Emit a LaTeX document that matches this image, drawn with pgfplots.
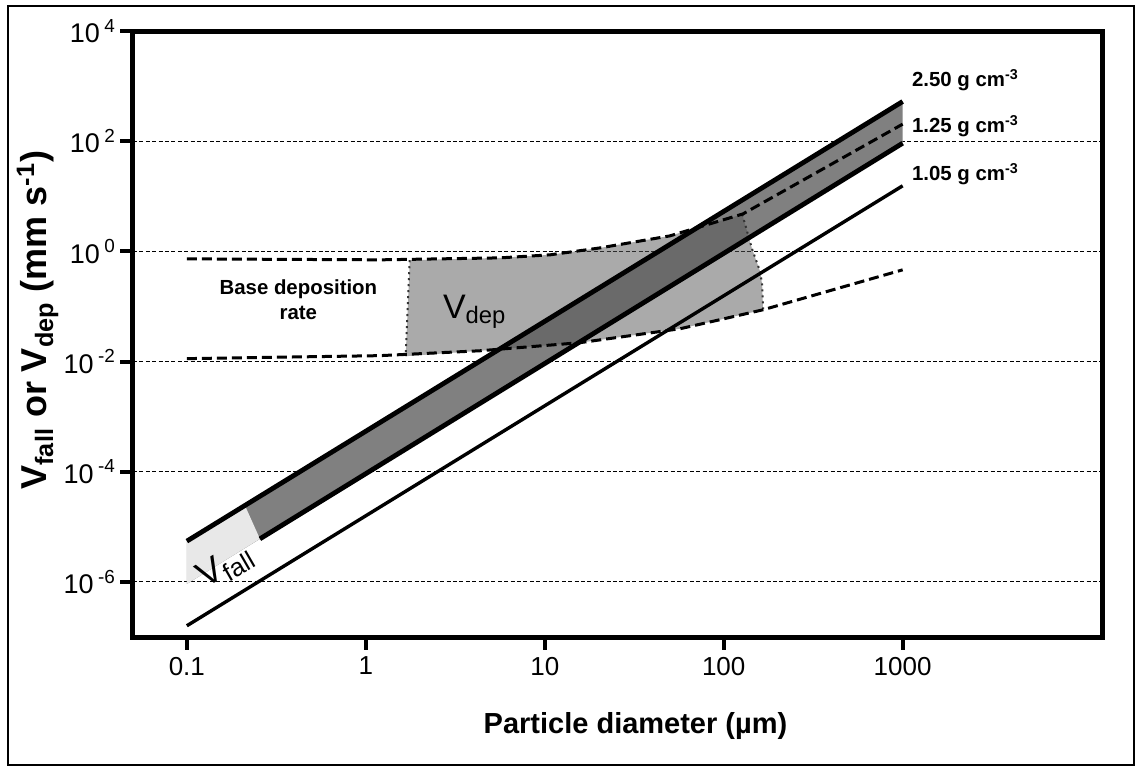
\documentclass[border=0pt]{standalone}
\usepackage{fontspec}
\setmainfont{Liberation Sans}
\usepackage{pgfplots}
\pgfplotsset{compat=1.18}
\definecolor{bandgray}{RGB}{128,128,128}
\definecolor{depgray}{RGB}{86,86,86}
\definecolor{fallgray}{RGB}{232,232,232}
\begin{document}
\begin{tikzpicture}
\begin{axis}[
 scale only axis, width=484.5pt, height=303pt,
 xmode=log, ymode=log,
 xmin=0.05, xmax=13000, ymin=1e-7, ymax=1e4,
 xtick={0.1,1,10,100,1000}, xticklabels={0.1,1,10,100,1000},
 ytick={1e-6,1e-4,1e-2,1,1e2,1e4},
 yticklabels={10\,\textsuperscript{-6},10\,\textsuperscript{-4},10\,\textsuperscript{-2},10\,\textsuperscript{0},10\,\textsuperscript{2},10\,\textsuperscript{4}},
 xminorticks=false, yminorticks=false,
 tick align=outside, xtick pos=left, ytick pos=left,
 major tick length=6.5pt,
 major tick style={line width=2pt, black},
 axis line style={line width=2.5pt},
 ymajorgrids, grid style={line width=0.5pt, dash pattern=on 2pt off 1.2pt, black},
 xticklabel style={font=\fontsize{13}{14}\selectfont},
 yticklabel style={font=\fontsize{13.5}{15}\selectfont, xshift=1.5pt},
 xlabel={Particle diameter (µm)},
 xlabel style={at={(axis description cs:0.5186,-0.1584)}, anchor=base, font=\bfseries\fontsize{14.5}{16}\selectfont},
 ylabel={V\textsubscript{fall} or V\textsubscript{dep} (mm s\textsuperscript{-1})},
 ylabel style={at={(axis description cs:-0.0985,0.523)}, anchor=center, font=\bfseries\fontsize{18}{20}\selectfont},
]
% dark band (1.25 - 2.50 g cm-3)
\addplot[draw=none, fill=bandgray] coordinates {(0.1,5.5e-6) (1000,525) (1000,92) (0.1,9.2e-7)} -- cycle;
% V_fall light patch
\addplot[draw=none, fill=fallgray] coordinates {(0.1,5.5e-6) (0.211,2.45e-5) (0.256,6.05e-6) (0.1,9.2e-7)} -- cycle;
% V_dep region
\addplot[draw=none, fill=depgray, fill opacity=0.5] coordinates {
 (1.76,0.69) (5.6,0.762) (10.7,0.865) (20.4,1.157) (50,1.91) (127,4.7)
 (144,1.11) (160,0.425) (164,0.247) (166,0.087)
 (95,0.0574) (57,0.0394) (15.7,0.0220) (4.35,0.0157) (1.67,0.0125)} -- cycle;
% dotted edges of V_dep
\addplot[line width=1pt, dotted, color=black!80] coordinates {(1.76,0.69) (1.67,0.0125)};
\addplot[line width=1pt, dotted, color=black!80] coordinates {(127,4.7) (144,1.11) (160,0.425) (164,0.247) (166,0.087)};
% dashed deposition bounds
\addplot[line width=1.5pt, dash pattern=on 5pt off 2.5pt, black] coordinates {
 (0.1,0.731) (1.2,0.702) (5.6,0.762) (10.7,0.865) (20.4,1.157) (50,1.91) (128,4.78) (1000,204)};
\addplot[line width=1.5pt, dash pattern=on 5pt off 2.5pt, black] coordinates {
 (0.1,0.0113) (1.2,0.0128) (4.35,0.0157) (15.7,0.0220) (57,0.0394) (95,0.0574) (166,0.0871) (1000,0.462)};
% fall velocity lines
\addplot[line width=2.4pt, black] coordinates {(0.1,5.5e-6) (1000,525)};
\addplot[line width=2.4pt, black] coordinates {(0.256,6.05e-6) (1000,92)};
\addplot[line width=1.7pt, black] coordinates {(0.1,1.6e-7) (1000,15.5)};
% labels
\node[anchor=west, inner sep=0pt, xshift=4.5pt, font=\bfseries\fontsize{10.2}{12}\selectfont] at (axis cs:1000,1280) {2.50 g cm\textsuperscript{-3}};
\node[anchor=west, inner sep=0pt, xshift=4.5pt, font=\bfseries\fontsize{10.2}{12}\selectfont] at (axis cs:1000,188) {1.25 g cm\textsuperscript{-3}};
\node[anchor=west, inner sep=0pt, xshift=4.5pt, font=\bfseries\fontsize{10.2}{12}\selectfont] at (axis cs:1000,25.4) {1.05 g cm\textsuperscript{-3}};
\node[align=center, font=\bfseries\fontsize{10.2}{12.5}\selectfont] at (axis cs:0.42,0.135) {Base deposition\\rate};
\node[font=\fontsize{17}{17}\selectfont] at (axis cs:4.06,0.08) {V\textsubscript{dep}};
\node[rotate=30, inner sep=0pt, font=\fontsize{18}{18}\selectfont] at (axis cs:0.165,1.9e-6) {V\textsubscript{fall}};
\end{axis}
\draw[line width=0.75pt] (-62.5pt,-64pt) rectangle (500.5pt,315.5pt);
\pgfresetboundingbox
\path (-66.5pt,-65pt) rectangle (501.5pt,318.5pt);
\end{tikzpicture}
\end{document}
